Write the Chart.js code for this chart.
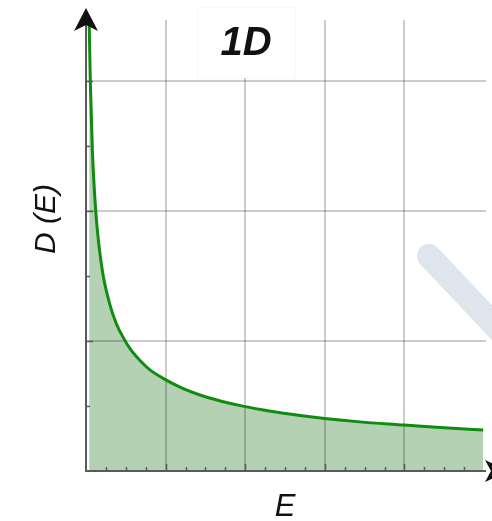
<!DOCTYPE html>
<html>
<head>
<meta charset="utf-8">
<script src="https://cdn.jsdelivr.net/npm/chart.js@4/dist/chart.umd.min.js"></script>
<style>
  html, body { margin: 0; padding: 0; background: #ffffff; }
  canvas { display: block; }
</style>
</head>
<body>
<canvas id="dos" width="492" height="521"></canvas>
<script>
// Density of states of a 1D system, D(E) falling off as E grows
const energy = [0.04, 0.054, 0.08, 0.12, 0.16, 0.214, 0.30, 0.38, 0.465, 0.56, 0.678, 0.80, 0.992, 1.2, 1.432, 1.7, 1.985, 2.3, 2.69, 3.0, 3.44, 4.0, 4.45, 4.99];
const dos    = [3.45, 3.0, 2.47, 2.02, 1.75, 1.51, 1.28, 1.135, 1.03, 0.935, 0.85, 0.78, 0.705, 0.64, 0.585, 0.537, 0.497, 0.462, 0.427, 0.404, 0.378, 0.354, 0.334, 0.315];

const xMajorTicks = [1, 2, 3, 4];
const yMajorTicks = [1, 2, 3];
const xMinorStep = 0.25;
const yMinorStep = 0.5;

const titleText = '1D';
const xTitle = 'E';
const yTitle = 'D (E)';

const points = energy.map((e, i) => ({ x: e, y: dos[i] }));

// Grid lines sit on top of the filled area but under the curve
const gridPlugin = {
  id: 'gridOverFill',
  beforeDatasetDraw(chart) {
    const { ctx, chartArea: a, scales: { x, y } } = chart;
    ctx.save();
    ctx.strokeStyle = 'rgba(0,0,0,0.2)';
    ctx.lineWidth = 2;
    xMajorTicks.forEach(v => {
      const px = Math.round(x.getPixelForValue(v));
      ctx.beginPath(); ctx.moveTo(px, a.top); ctx.lineTo(px, a.bottom); ctx.stroke();
    });
    yMajorTicks.forEach(v => {
      const py = Math.round(y.getPixelForValue(v));
      ctx.beginPath(); ctx.moveTo(a.left, py); ctx.lineTo(a.right, py); ctx.stroke();
    });
    ctx.restore();
  }
};

// Axes with arrow heads, inner tick marks, labels and the title
const axesPlugin = {
  id: 'arrowAxes',
  afterDatasetsDraw(chart) {
    const { ctx, scales: { x, y } } = chart;
    const x0 = x.getPixelForValue(0);
    const y0 = y.getPixelForValue(0);
    ctx.save();

    // decorative diagonal stroke on the right
    ctx.strokeStyle = '#dfe5ec';
    ctx.lineWidth = 24;
    ctx.lineCap = 'round';
    ctx.beginPath(); ctx.moveTo(429, 256); ctx.lineTo(512, 344); ctx.stroke();
    ctx.lineCap = 'butt';

    // axis lines
    ctx.strokeStyle = '#5a5a5a';
    ctx.lineWidth = 2;
    ctx.beginPath(); ctx.moveTo(x0, y0 + 1); ctx.lineTo(x0, 22); ctx.stroke();
    ctx.beginPath(); ctx.moveTo(x0 - 1, y0); ctx.lineTo(486, y0); ctx.stroke();

    // tick marks along the x axis
    ctx.lineWidth = 1.5;
    for (let v = xMinorStep; v < 5; v += xMinorStep) {
      const px = Math.round(x.getPixelForValue(v)) + 0.5;
      const len = Number.isInteger(v) ? 7 : 4;
      ctx.beginPath(); ctx.moveTo(px, y0); ctx.lineTo(px, y0 - len); ctx.stroke();
    }
    // tick marks along the y axis
    for (let v = yMinorStep; v < 3.4; v += yMinorStep) {
      const py = Math.round(y.getPixelForValue(v)) + 0.5;
      const len = Number.isInteger(v) ? 7 : 4;
      ctx.beginPath(); ctx.moveTo(x0, py); ctx.lineTo(x0 + len, py); ctx.stroke();
    }

    // arrow heads
    ctx.fillStyle = '#111111';
    ctx.beginPath();
    ctx.moveTo(x0, 8); ctx.lineTo(x0 - 12, 31); ctx.lineTo(x0, 25); ctx.lineTo(x0 + 12, 31);
    ctx.closePath(); ctx.fill();
    ctx.beginPath();
    ctx.moveTo(508, y0); ctx.lineTo(485, y0 - 11); ctx.lineTo(491, y0); ctx.lineTo(485, y0 + 11);
    ctx.closePath(); ctx.fill();

    // title on a white panel
    ctx.fillStyle = '#ffffff';
    ctx.fillRect(197, 7, 98, 71);
    ctx.strokeStyle = 'rgba(0,0,0,0.025)';
    ctx.lineWidth = 1;
    ctx.strokeRect(197.5, 7.5, 98, 71);
    ctx.fillStyle = '#111111';
    ctx.font = 'italic bold 40px "Liberation Sans", Arial, sans-serif';
    ctx.textAlign = 'center';
    ctx.textBaseline = 'middle';
    ctx.fillText(titleText, 246, 44);

    // axis titles
    ctx.font = 'italic 31px "Liberation Sans", Arial, sans-serif';
    ctx.fillText(xTitle, 285, 507);
    ctx.translate(47, 219);
    ctx.rotate(-Math.PI / 2);
    ctx.font = 'italic 30px "Liberation Sans", Arial, sans-serif';
    ctx.fillText(yTitle, 0, 0);
    ctx.restore();
  }
};

new Chart(document.getElementById('dos'), {
  type: 'scatter',
  data: {
    datasets: [{
      data: points,
      showLine: true,
      fill: 'origin',
      backgroundColor: '#b4d1b4',
      borderColor: '#108c10',
      borderWidth: 3,
      pointRadius: 0,
      cubicInterpolationMode: 'monotone'
    }]
  },
  options: {
    responsive: false,
    animation: false,
    layout: { padding: { left: 86, right: 6, top: 20, bottom: 50 } },
    plugins: { legend: { display: false }, tooltip: { enabled: false } },
    scales: {
      x: { type: 'linear', min: 0, max: 5.025, display: false },
      y: { type: 'linear', min: 0, max: 3.47, display: false }
    }
  },
  plugins: [gridPlugin, axesPlugin]
});
</script>
</body>
</html>
